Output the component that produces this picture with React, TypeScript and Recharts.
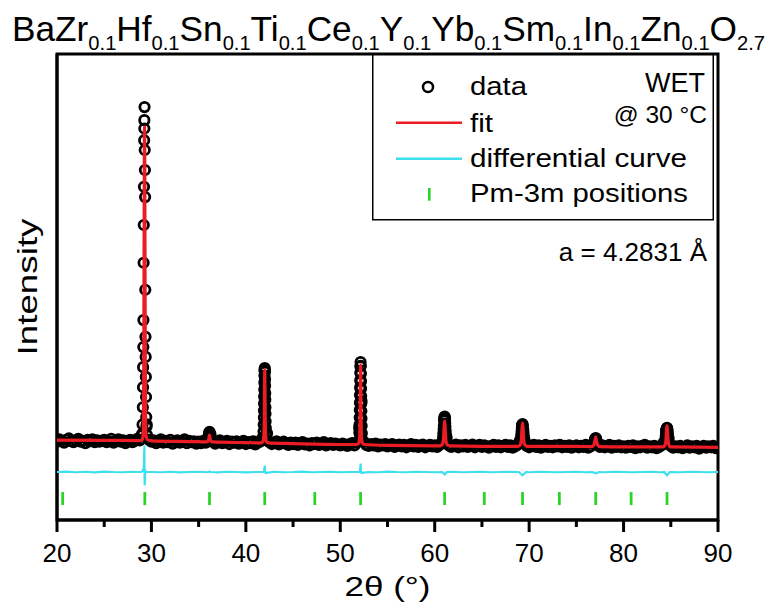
import React from "react";
import { ComposedChart, Scatter, Line, XAxis, YAxis, Legend, Label, ReferenceArea } from "recharts";

const INK = "#000000";
const FIT_RED = "#ec1c24";
const DIFF_CYAN = "#3ee0f0";
const TICK_GREEN = "#2ad52a";
const FONT = '"Liberation Sans", Arial, Helvetica, sans-serif';

// measured pattern, 20.00° .. 90.00° every 0.25°
const scanStart = 20;
const scanStep = 0.25;
const scanCounts = [
  168, 173, 170, 166, 172, 175, 169, 167, 171, 174, 168, 170, 165, 172, 169, 173, 167, 171, 168, 170,
  172, 167, 169, 174, 166, 170, 173, 168, 171, 165, 169, 172, 167, 170, 174, 171, 182, 840, 205, 172,
  168, 171, 165, 169, 173, 166, 170, 167, 172, 164, 169, 171, 166, 168, 173, 165, 170, 167, 169, 164,
  168, 165, 170, 166, 176, 184, 169, 164, 168, 171, 165, 167, 170, 163, 168, 166, 169, 164, 167, 170,
  163, 167, 165, 169, 162, 166, 168, 176, 320, 186, 167, 163, 166, 169, 162, 165, 168, 164, 161, 166,
  163, 166, 161, 165, 167, 162, 164, 160, 165, 163, 166, 161, 164, 167, 160, 163, 165, 161, 164, 162,
  160, 164, 162, 159, 163, 165, 160, 166, 198, 255, 168, 161, 159, 163, 160, 164, 158, 162, 160, 163,
  158, 161, 163, 157, 160, 162, 158, 161, 156, 160, 163, 158, 161, 157, 160, 162, 156, 159, 161, 158,
  160, 157, 161, 166, 214, 178, 160, 157, 159, 162, 156, 160, 158, 161, 157, 159, 162, 156, 159, 161,
  157, 160, 158, 155, 159, 161, 157, 160, 156, 159, 161, 157, 160, 155, 158, 161, 170, 203, 172, 159,
  156, 159, 161, 157, 160, 155, 158, 161, 157, 159, 156, 160, 158, 161, 156, 159, 157, 160, 155, 158,
  160, 156, 159, 157, 161, 155, 158, 163, 174, 165, 157, 160, 156, 158, 161, 155, 159, 157, 160, 156,
  158, 155, 159, 157, 160, 154, 158, 156, 159, 161, 155, 158, 156, 159, 154, 157, 160, 166, 192, 176,
  159, 155, 158, 156, 159, 154, 157, 160, 155, 158, 156, 159, 153, 157, 159, 155, 158, 156, 159, 154,
  157,
];

// extra points across the reflections [2θ, intensity]
const scanPeak29: [number, number][] = [
  [29.02, 185], [29.06, 205], [29.09, 242], [29.11, 285], [29.12, 328], [29.14, 371], [29.15, 429],
  [29.17, 552], [29.19, 633], [29.21, 715], [29.23, 815], [29.25, 858], [29.27, 886], [29.29, 794],
  [29.31, 751], [29.33, 693], [29.35, 494], [29.37, 393], [29.39, 350], [29.41, 307], [29.43, 264],
  [29.45, 221], [29.48, 200], [29.53, 182],
];
const scanPeak36: [number, number][] = [
  [35.98, 172], [36.02, 177], [36.06, 181], [36.1, 186], [36.15, 189], [36.19, 186], [36.23, 180],
  [36.27, 176], [36.31, 171],
];
const scanPeak42: [number, number][] = [
  [41.84, 175], [41.87, 190], [41.89, 205], [41.91, 220], [41.92, 235], [41.93, 250], [41.94, 265],
  [41.95, 280], [41.96, 295], [41.97, 310], [41.98, 322], [42.0, 326], [42.02, 318], [42.03, 302],
  [42.04, 288], [42.05, 272], [42.06, 258], [42.07, 242], [42.08, 228], [42.09, 212], [42.11, 198],
  [42.13, 184], [42.16, 172],
];
const scanPeak52: [number, number][] = [
  [51.99, 172], [52.02, 188], [52.04, 204], [52.06, 220], [52.07, 236], [52.08, 252], [52.09, 268],
  [52.1, 284], [52.11, 300], [52.12, 316], [52.13, 330], [52.15, 339], [52.17, 331], [52.18, 314],
  [52.19, 298], [52.2, 282], [52.21, 266], [52.22, 250], [52.23, 234], [52.24, 218], [52.26, 202],
  [52.28, 186], [52.31, 171],
];
const scanPeak61: [number, number][] = [
  [60.85, 170], [60.9, 178], [60.92, 186], [60.95, 195], [60.97, 203], [61.01, 216], [61.03, 220],
  [61.05, 222], [61.07, 219], [61.09, 214], [61.11, 207], [61.13, 200], [61.16, 191], [61.19, 183],
  [61.23, 175], [61.27, 168],
];
const scanPeak69: [number, number][] = [
  [69.1, 168], [69.14, 175], [69.17, 182], [69.2, 190], [69.23, 197], [69.27, 203], [69.3, 206],
  [69.33, 202], [69.37, 195], [69.4, 188], [69.43, 180], [69.47, 173], [69.51, 167],
];
const scanPeak77: [number, number][] = [
  [76.88, 164], [76.93, 168], [76.97, 171], [77.01, 174], [77.05, 176], [77.09, 174], [77.13, 170],
  [77.17, 167], [77.22, 163],
];
const scanPeak84: [number, number][] = [
  [84.4, 166], [84.44, 173], [84.47, 180], [84.51, 187], [84.54, 193], [84.57, 196], [84.6, 198],
  [84.63, 195], [84.66, 191], [84.69, 185], [84.73, 178], [84.76, 171], [84.8, 165],
];

// refined profile
const fitBackground: [number, number][] = [
  [20, 171.5], [25, 171], [30, 170], [35, 168], [40, 166], [45, 164], [50, 162], [55, 160],
  [60, 159], [65, 158], [70, 158], [75, 158], [80, 157], [85, 157], [90, 156],
];
const fitPeaks: [number, number][] = [
  [28.8, 170.5], [29.0, 172], [29.1, 178], [29.15, 200], [29.19, 330], [29.22, 560], [29.25, 790],
  [29.27, 843], [29.29, 790], [29.32, 560], [29.35, 330], [29.39, 200], [29.45, 178], [29.6, 172], [29.9, 170.5],
  [35.8, 167.5], [36.0, 169], [36.08, 174], [36.15, 182], [36.22, 174], [36.3, 169], [36.5, 167.5],
  [41.6, 165.5], [41.8, 168], [41.9, 180], [41.95, 220], [41.98, 290], [42.0, 322], [42.02, 290],
  [42.05, 220], [42.1, 180], [42.2, 168], [42.4, 165.5],
  [51.75, 162], [51.95, 165], [52.05, 177], [52.1, 220], [52.13, 300], [52.15, 333], [52.17, 300],
  [52.2, 220], [52.25, 177], [52.35, 165], [52.55, 162],
  [60.5, 159], [60.8, 162], [60.92, 172], [61.0, 200], [61.05, 212], [61.1, 200], [61.18, 172],
  [61.3, 162], [61.6, 159],
  [68.8, 158], [69.05, 161], [69.17, 171], [69.25, 198], [69.3, 208], [69.35, 198], [69.43, 171],
  [69.55, 161], [69.8, 158],
  [76.6, 157.5], [76.85, 161], [76.97, 170], [77.05, 178], [77.13, 170], [77.25, 161], [77.5, 157.5],
  [84.2, 157], [84.4, 161], [84.5, 175], [84.56, 196], [84.6, 202], [84.64, 196], [84.7, 175],
  [84.8, 161], [84.95, 157],
];

// observed - calculated, shifted below the pattern
const diffCurve: [number, number][] = [
  [20, 103], [21, 104], [22, 102.5], [23, 103.5], [24, 102], [25, 104], [26, 103], [27, 102.5],
  [28, 103.5], [28.9, 103], [29.05, 105], [29.15, 109], [29.2, 115], [29.22, 128], [29.235, 150],
  [29.245, 122], [29.255, 160], [29.27, 96], [29.285, 74], [29.3, 102], [29.315, 80], [29.33, 108],
  [29.36, 100], [29.42, 104], [29.5, 103], [30, 103], [31, 102.5], [32, 103.5], [33, 102], [34, 103],
  [35, 103.5], [36, 102.5], [36.15, 104], [36.3, 103], [37, 102], [38, 103.5], [39, 103], [40, 102],
  [41, 103], [41.9, 103], [41.97, 110], [42, 117], [42.04, 104], [42.1, 101], [43, 103.5], [44, 102.5],
  [45, 103], [46, 104], [47, 102.5], [48, 103], [49, 103.5], [50, 102.5], [51, 103], [52.05, 103],
  [52.12, 112], [52.15, 121], [52.19, 104], [52.25, 101], [53, 103], [54, 102.5], [55, 104], [56, 103],
  [57, 102.5], [58, 103.5], [59, 103], [60, 102.5], [60.8, 103], [61.05, 98], [61.3, 103], [62, 103.5],
  [63, 102.5], [64, 103], [65, 103.5], [66, 102.5], [67, 103], [68, 103.5], [68.9, 103], [69.3, 96],
  [69.7, 103], [70, 102.5], [71, 103.5], [72, 103], [73, 102.5], [74, 103], [75, 103.5], [76, 102.5],
  [76.7, 103], [77.05, 100], [77.4, 103], [78, 102.5], [79, 103.5], [80, 103], [81, 102.5], [82, 103],
  [83, 103.5], [84, 102.5], [84.3, 103], [84.6, 96], [84.9, 103], [86, 102.5], [87, 103.5],
  [88, 103], [89, 102.5], [90, 103],
];

// Pm-3m reflection positions
const reflections = [20.6, 29.3, 36.15, 42.0, 47.3, 52.15, 61.05, 65.25, 69.3, 73.2, 77.05, 80.8, 84.6];
const reflectionLevel = 46;

const xTicks = [20, 25, 30, 35, 40, 45, 50, 55, 60, 65, 70, 75, 80, 85, 90];

const formula: [string, string][] = [
  ["Ba", ""], ["Zr", "0.1"], ["Hf", "0.1"], ["Sn", "0.1"], ["Ti", "0.1"], ["Ce", "0.1"],
  ["Y", "0.1"], ["Yb", "0.1"], ["Sm", "0.1"], ["In", "0.1"], ["Zn", "0.1"], ["O", "2.7"],
];

const toPoints = (pairs: [number, number][]) => pairs.map(([theta, v]) => ({ theta, v }));
const byTheta = (a: { theta: number }, b: { theta: number }) => a.theta - b.theta;

const dataPoints = [
  ...scanCounts.map((v, i) => ({ theta: scanStart + i * scanStep, v })),
  ...toPoints(scanPeak29),
  ...toPoints(scanPeak36),
  ...toPoints(scanPeak42),
  ...toPoints(scanPeak52),
  ...toPoints(scanPeak61),
  ...toPoints(scanPeak69),
  ...toPoints(scanPeak77),
  ...toPoints(scanPeak84),
].sort(byTheta);
const fitPoints = toPoints([...fitBackground, ...fitPeaks]).sort(byTheta);
const diffPoints = toPoints(diffCurve);
const reflectionPoints = reflections.map((theta) => ({ theta, v: reflectionLevel }));

const OpenCircle = (props: any) => (
  <circle cx={props.cx} cy={props.cy} r={4.7} fill="none" stroke={INK} strokeWidth={2.8} />
);

const PositionBar = (props: any) => (
  <line
    x1={props.cx}
    x2={props.cx}
    y1={props.cy - 6.5}
    y2={props.cy + 6.5}
    stroke={TICK_GREEN}
    strokeWidth={2.8}
  />
);

const AxisTick = (props: any) => {
  const { x, y, payload } = props;
  const major = payload.value % 10 === 0;
  return (
    <g>
      <line x1={x} x2={x} y1={y} y2={y + (major ? 12 : 7)} stroke={INK} strokeWidth={3} />
      {major ? (
        <text x={x} y={y + 42} textAnchor="middle" fontSize={26} fontFamily={FONT} fill={INK}>
          {payload.value}
        </text>
      ) : null}
    </g>
  );
};

const LegendBox = () => (
  <svg width={342} height={167} style={{ display: "block", fontFamily: FONT }}>
    <rect x={0.75} y={0.75} width={340.5} height={165} fill="#fff" stroke={INK} strokeWidth={1.5} />
    <circle cx={56} cy={33} r={5} fill="none" stroke={INK} strokeWidth={2.5} />
    <text x={98} y={41} fontSize={26} textLength={57} lengthAdjust="spacingAndGlyphs">data</text>
    <line x1={24} x2={90} y1={68.7} y2={68.7} stroke={FIT_RED} strokeWidth={2.5} />
    <text x={98} y={78} fontSize={26} textLength={23} lengthAdjust="spacingAndGlyphs">fit</text>
    <line x1={24} x2={90} y1={104.7} y2={104.7} stroke={DIFF_CYAN} strokeWidth={2.5} />
    <text x={98} y={113} fontSize={26} textLength={217} lengthAdjust="spacingAndGlyphs">
      differential curve
    </text>
    <line x1={57.3} x2={57.3} y1={134} y2={146.7} stroke={TICK_GREEN} strokeWidth={2.6} />
    <text x={98} y={148} fontSize={26} textLength={218} lengthAdjust="spacingAndGlyphs">
      Pm-3m positions
    </text>
    <text x={333} y={38} fontSize={27} textAnchor="end">WET</text>
    <text x={335} y={69} fontSize={24.5} textAnchor="end">@ 30 °C</text>
  </svg>
);

export default function App() {
  return (
    <div style={{ position: "absolute", left: 0, top: 0, width: 769, height: 605, background: "#fff" }}>
      <ComposedChart
        width={769}
        height={605}
        margin={{ top: 54, right: 51, bottom: 0, left: 0 }}
        style={{ fontFamily: FONT }}
      >
        <XAxis
          dataKey="theta"
          type="number"
          domain={[20, 90]}
          ticks={xTicks}
          interval={0}
          allowDataOverflow
          height={85}
          tickSize={0}
          tickMargin={0}
          tickLine={false}
          tick={<AxisTick />}
          axisLine={{ stroke: INK, strokeWidth: 3 }}
        >
          <Label
            content={(p: any) => {
              const vb = p.viewBox;
              return (
                <text
                  x={vb.x + vb.width / 2}
                  y={vb.y + 76}
                  textAnchor="middle"
                  fontSize={28}
                  fontFamily={FONT}
                  fill={INK}
                  textLength={86}
                  lengthAdjust="spacingAndGlyphs"
                >
                  2θ (°)
                </text>
              );
            }}
          />
        </XAxis>
        <YAxis
          dataKey="v"
          type="number"
          domain={[0, 1000]}
          allowDataOverflow
          width={57}
          tick={false}
          tickLine={false}
          axisLine={{ stroke: INK, strokeWidth: 3 }}
        >
          <Label
            content={(p: any) => {
              const vb = p.viewBox;
              const cy = vb.y + vb.height / 2;
              return (
                <text
                  x={37}
                  y={cy}
                  transform={`rotate(-90 37 ${cy})`}
                  textAnchor="middle"
                  fontSize={28}
                  fontFamily={FONT}
                  fill={INK}
                  textLength={137}
                  lengthAdjust="spacingAndGlyphs"
                >
                  Intensity
                </text>
              );
            }}
          />
        </YAxis>
        <Legend
          layout="horizontal"
          verticalAlign="middle"
          align="center"
          wrapperStyle={{ left: 372, top: 54, width: 342, height: 167 }}
          content={() => <LegendBox />}
        />
        <Scatter
          name="data"
          data={dataPoints}
          dataKey="v"
          shape={OpenCircle}
          zIndex={300}
          isAnimationActive={false}
        />
        <Line
          name="fit"
          data={fitPoints}
          dataKey="v"
          type="monotone"
          stroke={FIT_RED}
          strokeWidth={3.2}
          dot={false}
          activeDot={false}
          zIndex={700}
          isAnimationActive={false}
        />
        <Line
          name="differential curve"
          data={diffPoints}
          dataKey="v"
          type="linear"
          stroke={DIFF_CYAN}
          strokeWidth={2.2}
          dot={false}
          activeDot={false}
          zIndex={700}
          isAnimationActive={false}
        />
        <Scatter
          name="Pm-3m positions"
          data={reflectionPoints}
          dataKey="v"
          shape={PositionBar}
          zIndex={700}
          isAnimationActive={false}
        />
        <ReferenceArea
          x1={20}
          x2={90}
          y1={0}
          y2={1000}
          fill="none"
          fillOpacity={0}
          stroke={INK}
          strokeWidth={3}
          ifOverflow="visible"
        />
      </ComposedChart>
      <svg
        width={769}
        height={605}
        style={{ position: "absolute", left: 0, top: 0, pointerEvents: "none", fontFamily: FONT }}
      >
        <text x={12} y={41} fontSize={35} fill={INK} textLength={753} lengthAdjust="spacingAndGlyphs">
          {formula.map(([el, sub], i) => (
            <React.Fragment key={i}>
              <tspan y={41} fontSize={35}>{el}</tspan>
              {sub ? <tspan y={50} fontSize={20}>{sub}</tspan> : null}
            </React.Fragment>
          ))}
        </text>
        <text x={707} y={261} fontSize={26} fill={INK} textAnchor="end">
          a = 4.2831 Å
        </text>
      </svg>
    </div>
  );
}
